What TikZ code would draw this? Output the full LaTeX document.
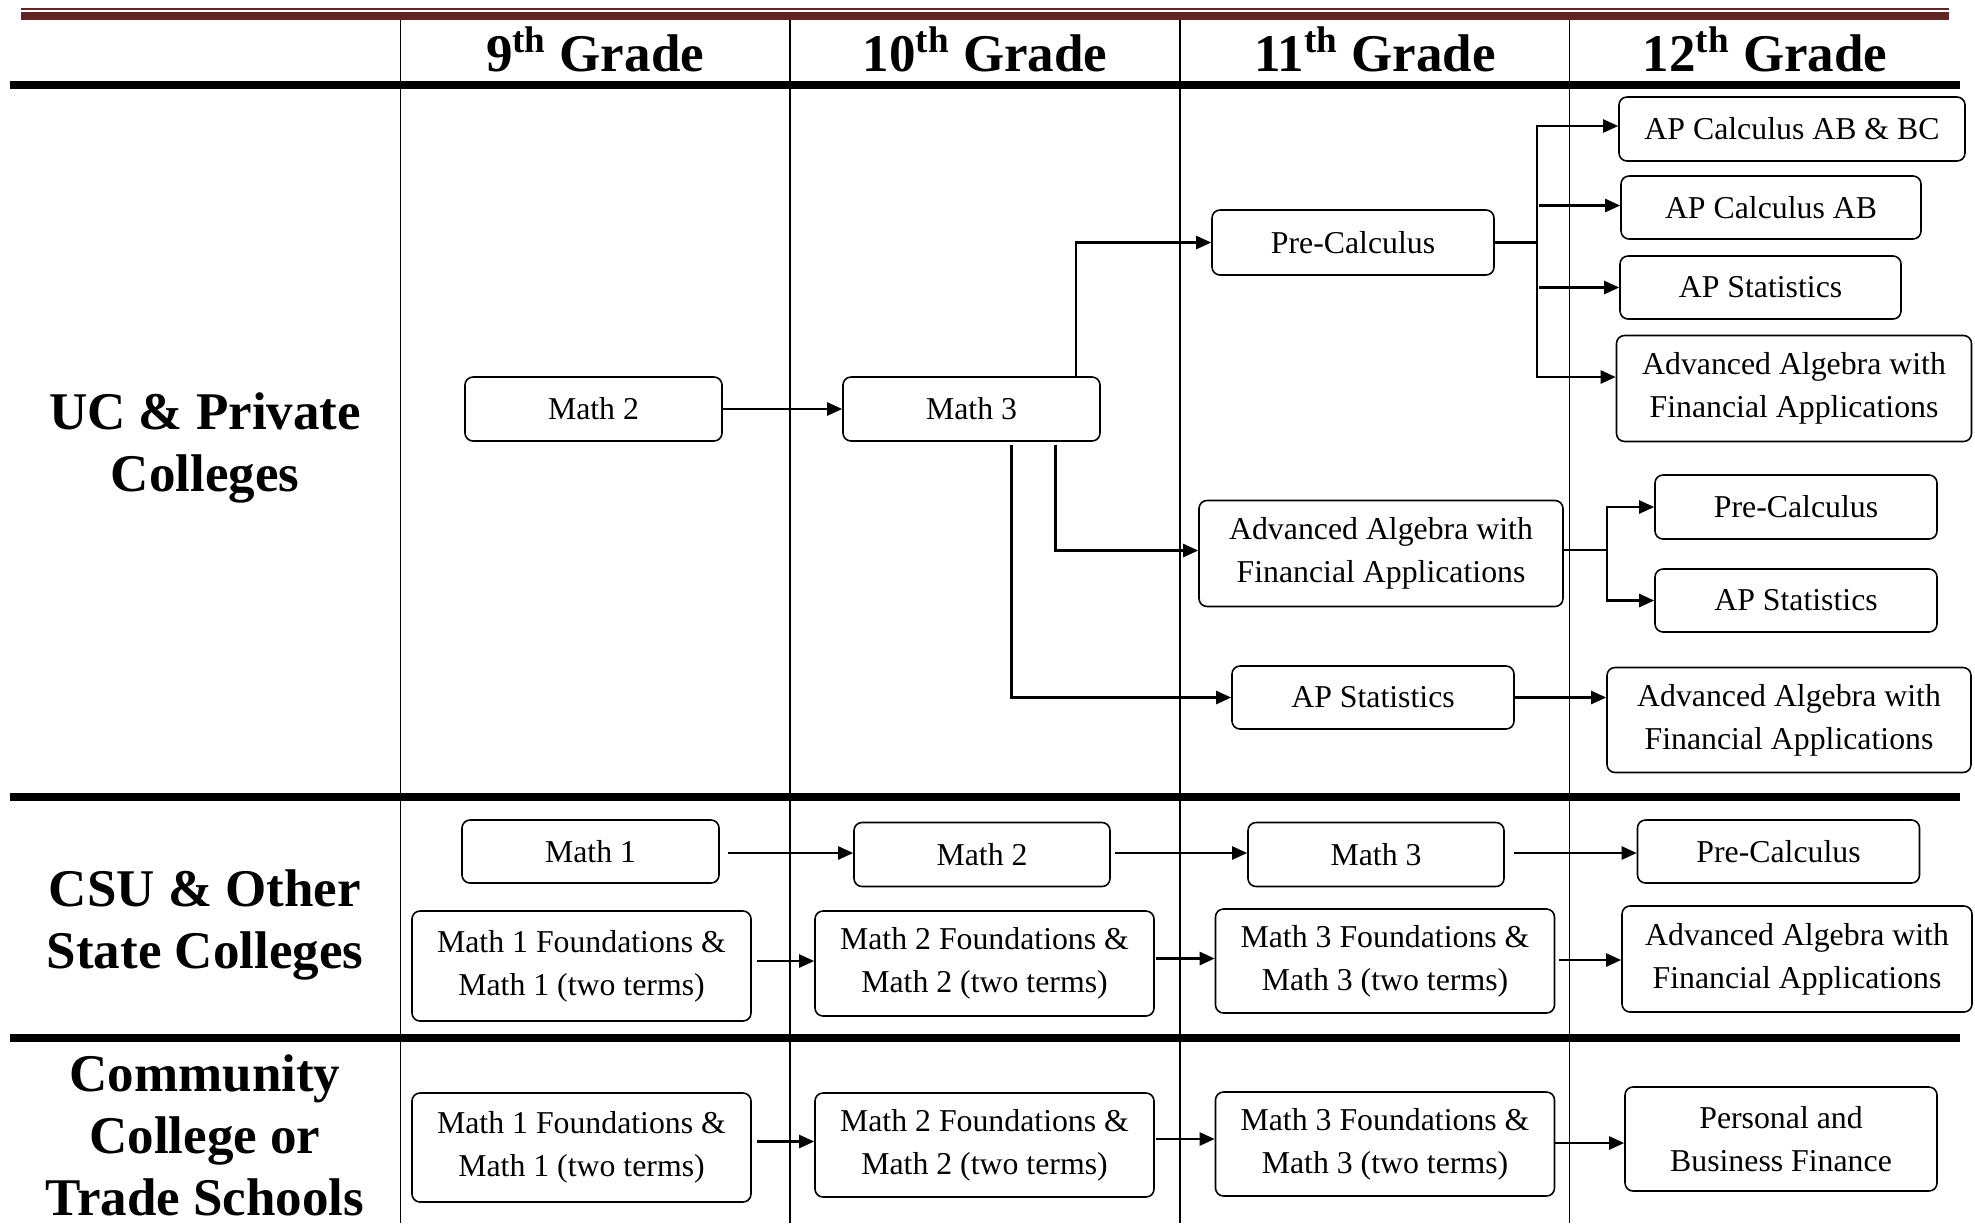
\documentclass[tikz,border=0pt]{standalone}
\usepackage{fontspec}
\setmainfont{Liberation Serif}
\usetikzlibrary{arrows.meta,calc}
\definecolor{darkred}{HTML}{622423}
\newcommand\hdrfont{\fontsize{26.5}{31}\selectfont\bfseries}
\newcommand\bxfont{\fontsize{15.9}{21.5}\selectfont}
\tikzset{
  cbox/.style={draw, rounded corners=4pt, line width=0.8pt, align=center, inner sep=0pt, font=\bxfont},
  two/.style={text depth=0.5pt},
  arr/.style={-{Triangle[length=7.5pt,width=6.5pt]}, line width=1.2pt},
  ln/.style={line width=1.2pt},
  thickrule/.style={line width=3.8pt},
  colrule/.style={line width=0.9pt},
  hdr/.style={font=\hdrfont, anchor=base, inner sep=0pt},
  rowlbl/.style={font=\hdrfont, align=center, inner sep=0pt}
}
\begin{document}
\begin{tikzpicture}[x=0.5pt,y=-0.5pt]
\useasboundingbox (0,0) rectangle (1975,1223);
% top red rules
\draw[darkred, line width=1pt] (21,9) -- (1949,9);
\draw[darkred, line width=4pt] (21,16) -- (1949,16);
% column rules
\foreach \xx in {400.5,790,1180,1569.5}
  \draw[colrule] (\xx,20) -- (\xx,1223);
% horizontal thick rules
\draw[thickrule] (10,85) -- (1960,85);
\draw[thickrule] (10,797) -- (1960,797);
\draw[thickrule] (10,1038) -- (1960,1038);
% headers
\node[hdr] (h9)  at (595,71)  {9\textsuperscript{th} Grade};
\node[hdr] (h10) at (985,71)  {10\textsuperscript{th} Grade};
\node[hdr] (h11) at (1375,71) {11\textsuperscript{th} Grade};
\node[hdr] (h12) at (1765,71) {12\textsuperscript{th} Grade};
% row labels
\node[rowlbl] (r1) at (205,448)  {UC \& Private\\Colleges};
\node[rowlbl] (r2) at (205,925)  {CSU \& Other\\State Colleges};
\node[rowlbl] (r3) at (205,1135) {Community\\College or\\Trade Schools};
% UC boxes
\node[cbox, minimum width=128.5pt, minimum height=32pt] (m2u) at (593.5,409) {Math 2};
\node[cbox, minimum width=128.5pt, minimum height=32pt] (m3u) at (971.5,409) {Math 3};
\node[cbox, minimum width=141pt, minimum height=32.5pt] (pc11) at (1353,242.5) {Pre-Calculus};
\node[cbox, minimum width=182pt, minimum height=53pt] (aa11) at (1381,553.5) {Advanced Algebra with\\Financial Applications};
\node[cbox, minimum width=141pt, minimum height=31.5pt] (aps11) at (1373,697.5) {AP Statistics};
\node[cbox, minimum width=173pt, minimum height=32pt] (calcbc) at (1792,129) {AP Calculus AB \& BC};
\node[cbox, minimum width=150pt, minimum height=31.5pt] (calcab) at (1771,207.5) {AP Calculus AB};
\node[cbox, minimum width=140.5pt, minimum height=31.5pt] (aps12a) at (1760.5,287.5) {AP Statistics};
\node[cbox, minimum width=177.5pt, minimum height=53pt] (aa12a) at (1794,388.5) {Advanced Algebra with\\Financial Applications};
\node[cbox, minimum width=141pt, minimum height=32pt] (pc12) at (1796,507) {Pre-Calculus};
\node[cbox, minimum width=141pt, minimum height=31.5pt] (aps12b) at (1796,600.5) {AP Statistics};
\node[cbox, minimum width=182pt, minimum height=52.5pt] (aa12b) at (1789,720) {Advanced Algebra with\\Financial Applications};
% CSU boxes
\node[cbox, minimum width=128.5pt, minimum height=31.5pt] (m1c) at (590.5,851.5) {Math 1};
\node[cbox, minimum width=128pt, minimum height=32pt] (m2c) at (982,854.5) {Math 2};
\node[cbox, minimum width=128pt, minimum height=32pt] (m3c) at (1376,854.5) {Math 3};
\node[cbox, minimum width=141pt, minimum height=31.5pt] (pcc) at (1778.5,851.5) {Pre-Calculus};
\node[cbox, minimum width=169.5pt, minimum height=55pt] (f1c) at (581.5,966) {Math 1 Foundations \&\\Math 1 (two terms)};
\node[cbox, minimum width=169.5pt, minimum height=52.5pt] (f2c) at (984.5,963.5) {Math 2 Foundations \&\\Math 2 (two terms)};
\node[cbox, minimum width=169.5pt, minimum height=52pt] (f3c) at (1385,961) {Math 3 Foundations \&\\Math 3 (two terms)};
\node[cbox, minimum width=175pt, minimum height=53pt] (aac) at (1797,959) {Advanced Algebra with\\Financial Applications};
% CC boxes
\node[cbox, minimum width=169.5pt, minimum height=54.5pt] (f1cc) at (581.5,1147.5) {Math 1 Foundations \&\\Math 1 (two terms)};
\node[cbox, minimum width=169.5pt, minimum height=52pt] (f2cc) at (984.5,1145) {Math 2 Foundations \&\\Math 2 (two terms)};
\node[cbox, minimum width=169.5pt, minimum height=52pt] (f3cc) at (1385,1144) {Math 3 Foundations \&\\Math 3 (two terms)};
\node[cbox, minimum width=156pt, minimum height=52pt] (pbf) at (1781,1139) {Personal and\\Business Finance};
% UC connectors
\draw[arr] (m2u.east) -- (m3u.west);
\draw[arr] ($(m3u.north)+(104.5,0)$) |- (pc11.west);
\draw[arr] ($(m3u.south)+(84,3)$) |- ($(aa11.west)+(0,-3)$);
\draw[arr] ($(m3u.south)+(40,3)$) |- (aps11.west);
\coordinate (j1) at (1537,242.5);
\draw[ln] (pc11.east) -- (j1);
\draw[arr] (j1) |- ($(calcbc.west)+(0,-3)$);
\draw[arr] (j1) |- ($(aa12a.west)+(0,-11.5)$);
\draw[arr] ($(j1 |- calcab.west)+(2,-2)$) -- ($(calcab.west)+(0,-2)$);
\draw[arr] ($(j1 |- aps12a.west)+(2,0)$) -- (aps12a.west);
\coordinate (j2) at (1607,550);
\draw[ln] ($(aa11.east)+(0,-3.5)$) -- (j2);
\draw[arr] (j2) |- (pc12.west);
\draw[arr] (j2) |- (aps12b.west);
\draw[arr] (aps11.east) -- (aps11.east -| aa12b.west);
% CSU connectors
\draw[arr] ($(m1c.east)+(8,1.5)$) -- ($(m2c.west)+(0,-1.5)$);
\draw[arr] ($(m2c.east)+(4,-1.5)$) -- ($(m3c.west)+(0,-1.5)$);
\draw[arr] ($(m3c.east)+(9,-1.5)$) -- ($(m3c.east -| pcc.west)+(0,-1.5)$);
\draw[arr] ($(f1c.east)+(5,-5)$) -- ($(f1c.east -| f2c.west)+(0,-5)$);
\draw[arr] ($(f2c.east)+(1,-5)$) -- ($(f2c.east -| f3c.west)+(0,-5)$);
\draw[arr] ($(f3c.east)+(4,-1)$) -- ($(f3c.east -| aac.west)+(0,-1)$);
% CC connectors
\draw[arr] ($(f1cc.east)+(5,-6)$) -- ($(f1cc.east -| f2cc.west)+(0,-6)$);
\draw[arr] ($(f2cc.east)+(1,-6)$) -- ($(f2cc.east -| f3cc.west)+(0,-6)$);
\draw[arr] ($(f3cc.east)+(0,-1)$) -- ($(f3cc.east -| pbf.west)+(0,-1)$);
\end{tikzpicture}
\end{document}
